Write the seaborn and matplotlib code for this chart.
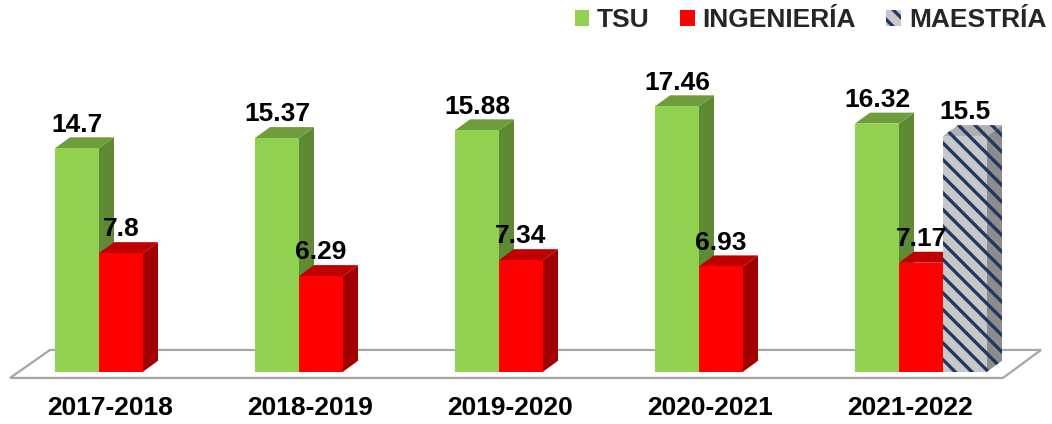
import numpy as np
import pandas as pd
import matplotlib
matplotlib.use('Agg')
import matplotlib.pyplot as plt
from matplotlib.patches import Polygon, Patch
from matplotlib.transforms import ScaledTranslation
import seaborn as sns

# chart data
years = ['2017-2018', '2018-2019', '2019-2020', '2020-2021', '2021-2022']
series = ['TSU', 'INGENIERÍA', 'MAESTRÍA']
tsu = [14.7, 15.37, 15.88, 17.46, 16.32]
ingenieria = [7.8, 6.29, 7.34, 6.93, 7.17]
maestria = [None, None, None, None, 15.5]

# front / side / top colours per series
front_colors = ['#92D050', '#FF0000', '#C8C8C8']
side_colors = ['#5E8A35', '#A00000', '#8C8C8C']
top_colors = ['#6E9E3C', '#C00000', '#B0B0B0']
hatches = [None, None, '\\\\']

rows = []
for name, vals in zip(series, [tsu, ingenieria, maestria]):
    for yr, v in zip(years, vals):
        if v is not None:
            rows.append({'Periodo': yr, 'Serie': name, 'Valor': v})
df = pd.DataFrame(rows)

sns.set_style('white')
plt.rcParams['font.family'] = ['Liberation Sans', 'DejaVu Sans']
plt.rcParams['font.weight'] = 'bold'
plt.rcParams['hatch.linewidth'] = 2.4

fig = plt.figure(figsize=(10.52, 4.24), dpi=100)
ax = fig.add_axes([0, 32 / 424, 1, 392 / 424])

sns.barplot(data=df, x='Periodo', y='Valor', hue='Serie', order=years,
            hue_order=series, palette=front_colors, width=0.66,
            saturation=1, legend=False, ax=ax)

ax.set_xlim(-0.605, 4.655)
ax.set_ylim(-1.335, 24.45)

# 3D depth (data units)
dx, dy = 0.075, 0.72

for k, cont in enumerate(ax.containers):
    for bar in cont:
        h = bar.get_height()
        if h is None or np.isnan(h):
            continue
        x0 = bar.get_x()
        x1 = x0 + bar.get_width()
        bar.set_edgecolor('none')
        bar.set_linewidth(0)
        bar.set_zorder(3 + 2 * k)
        side = Polygon([(x1, 0), (x1 + dx, dy), (x1 + dx, h + dy), (x1, h)],
                       closed=True, facecolor=side_colors[k], lw=0,
                       zorder=2 + 2 * k)
        top = Polygon([(x0, h), (x0 + dx, h + dy), (x1 + dx, h + dy), (x1, h)],
                      closed=True, facecolor=top_colors[k], lw=0,
                      zorder=2 + 2 * k)
        if hatches[k]:
            for p in (bar, side, top):
                p.set_hatch(hatches[k])
                p.set_edgecolor('#1F3864')
                p.set_linewidth(0)
        ax.add_patch(side)
        ax.add_patch(top)
        ax.text(x0 + (x1 - x0) / 2, h + dy + 0.05, f'{h:g}', ha='center',
                va='bottom', fontsize=19, fontweight='bold', color='black',
                zorder=20)

# floor
n = len(years)
floor = Polygon([(-0.555, -0.41), (n - 0.59, -0.41),
                 (n - 0.4, 1.43), (-0.355, 1.43)],
                closed=True, facecolor='white', edgecolor='#A6A6A6',
                lw=1.6, zorder=1)
ax.add_patch(floor)

ax.set_xlabel('')
ax.set_ylabel('')
ax.set_yticks([])
ax.tick_params(axis='x', length=0, pad=3, labelsize=19, labelcolor='black')
for lbl in ax.get_xticklabels():
    lbl.set_fontweight('bold')
    lbl.set_transform(lbl.get_transform() +
                      ScaledTranslation(-11 / 100, 0, fig.dpi_scale_trans))
for s in ax.spines.values():
    s.set_visible(False)

handles = [Patch(facecolor=front_colors[0], edgecolor='none'),
           Patch(facecolor=front_colors[1], edgecolor='none'),
           Patch(facecolor=front_colors[2], edgecolor='#1F3864', lw=0,
                 hatch='\\\\')]
fig.legend(handles, series, loc='upper right', bbox_to_anchor=(1.017, 1.037),
           ncol=3, frameon=False, handlelength=0.55,
           handleheight=0.55, handletextpad=0.3, columnspacing=1.15,
           prop={'weight': 'bold', 'size': 19})

fig.savefig('out.png', dpi=100)
